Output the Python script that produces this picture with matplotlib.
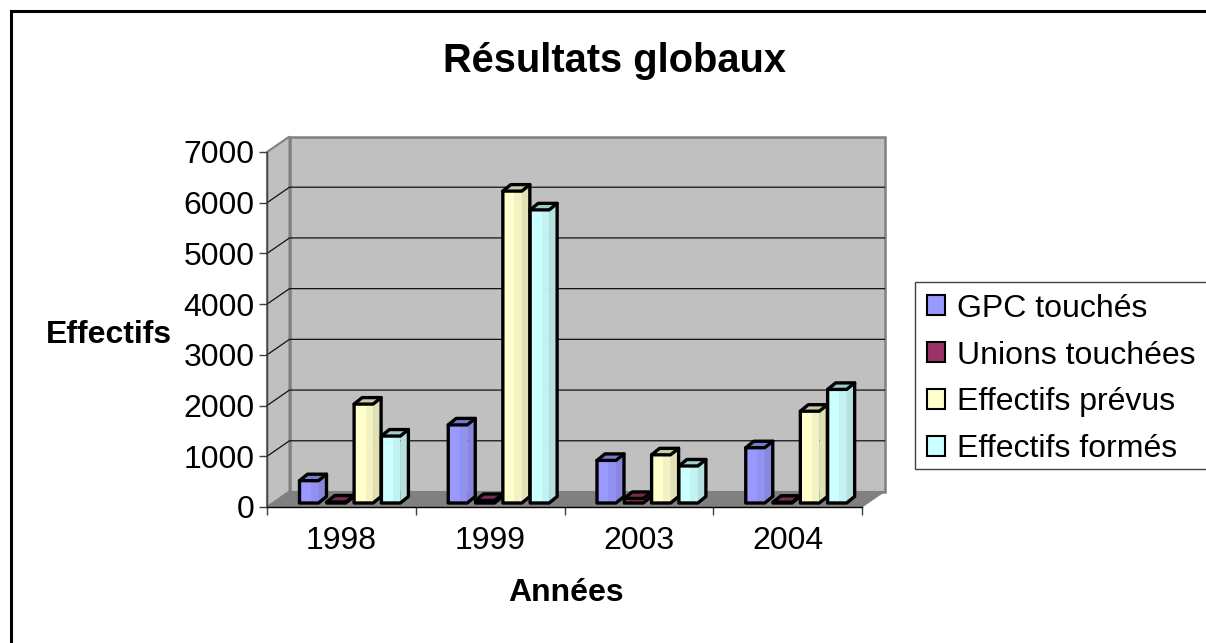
import matplotlib
matplotlib.use("Agg")
import matplotlib.pyplot as plt
from matplotlib.patches import Polygon, Patch, Rectangle
from matplotlib.lines import Line2D
from matplotlib.colors import to_rgb

plt.rcParams['font.family'] = ['Liberation Sans', 'DejaVu Sans']

years = ['1998', '1999', '2003', '2004']
series = ['GPC touchés', 'Unions touchées', 'Effectifs prévus', 'Effectifs formés']
gpc = [440, 1540, 840, 1090]
unions = [20, 50, 90, 15]
prevus = [1950, 6150, 950, 1810]
formes = [1320, 5780, 730, 2240]
values = [gpc, unions, prevus, formes]
colors = ['#9999FF', '#993366', '#FFFFCC', '#CCFFFF']
y_ticks = [0, 1000, 2000, 3000, 4000, 5000, 6000, 7000]

W, H = 1206, 643
L, R, B, T = 267, 862, 507, 152          # front plot box, pixels
fig = plt.figure(figsize=(W / 100, H / 100), dpi=100, facecolor='white')
ax = fig.add_axes([L / W, 1 - B / H, (R - L) / W, (B - T) / H])
ax.set_xlim(0, len(years))
ax.set_ylim(0, 7000)
ax.patch.set_visible(False)

px = len(years) / (R - L)                # data units per pixel, x
py = 7000 / (B - T)                      # data units per pixel, y
DX, DY = 22.5 * px, 15.5 * py            # chart depth

# outer chart frame (runs off the right and bottom edges)
fig.add_artist(Line2D([11 / W, 11 / W], [0, 1 - 11 / H], color='black', lw=2.2))
fig.add_artist(Line2D([11 / W, 1], [1 - 11 / H, 1 - 11 / H], color='black', lw=2.2))

# walls and floor
wall = dict(clip_on=False, joinstyle='miter')
ax.add_patch(Polygon([(0, 0), (DX, DY), (DX, 7000 + DY), (0, 7000)], fc='#C0C0C0', ec='#808080', lw=1.5, zorder=1, **wall))
ax.add_patch(Polygon([(DX, DY), (4 + DX, DY), (4 + DX, 7000 + DY), (DX, 7000 + DY)], fc='#C0C0C0', ec='#808080', lw=1.8, zorder=1, **wall))
ax.add_patch(Polygon([(0, 0), (4, 0), (4 + DX, DY), (DX, DY)], fc='#808080', ec='#808080', lw=0.8, zorder=1.5, **wall))
for v in y_ticks[1:-1]:
    ax.plot([0, DX, 4 + DX], [v, v + DY, v + DY], color='#111111', lw=0.9, zorder=2, clip_on=False, solid_joinstyle='miter')


def shade(c, f):
    return tuple(x * f for x in to_rgb(c))


# bars
START, STEP = 32.5 * px, 27.3 * px
FW, SW, SH = 19 * px, 8 * px, 6.5 * py
BX, BY = 0, 4 * py
LW = 2.4
for i, (vals, col) in enumerate(zip(values, colors)):
    for j, v in enumerate(vals):
        x0 = j + START + i * STEP + BX
        xm = x0 + FW * 0.6
        x1 = x0 + FW
        y0 = BY
        y1 = BY + v
        z = 3 + i * 0.1 + j
        opts = dict(ec='none', clip_on=False, zorder=z)
        ax.add_patch(Polygon([(x0, y0), (xm, y0), (xm, y1), (x0, y1)], fc=col, **opts))
        ax.add_patch(Polygon([(xm, y0), (x1, y0), (x1, y1), (xm, y1)], fc=shade(col, 0.95), **opts))
        ax.add_patch(Polygon([(x1, y0), (x1 + SW, y0 + SH), (x1 + SW, y1 + SH), (x1, y1)], fc=shade(col, 0.88), **opts))
        ax.add_patch(Polygon([(x0, y1), (x1, y1), (x1 + SW, y1 + SH), (x0 + SW, y1 + SH)], fc=shade(col, 0.8), **opts))
        edge = dict(fc='none', ec='black', lw=LW, joinstyle='round', clip_on=False, zorder=z + 0.05)
        ax.add_patch(Polygon([(x0, y0), (x1, y0), (x1 + SW, y0 + SH), (x1 + SW, y1 + SH), (x0 + SW, y1 + SH), (x0, y1)], **edge))
        ax.plot([x0, x1, x1 + SW], [y1, y1, y1 + SH], color='black', lw=LW, clip_on=False, zorder=z + 0.05, solid_capstyle='round')

# axes
for s in ['top', 'right']:
    ax.spines[s].set_visible(False)
ax.spines['left'].set_color('#404040')
ax.spines['left'].set_linewidth(1.0)
ax.spines['bottom'].set_color('black')
ax.spines['bottom'].set_linewidth(1.0)
for s in ax.spines.values():
    s.set_zorder(2.5)
ax.set_yticks(y_ticks)
ax.tick_params(axis='y', length=5.5, width=1, color='#404040', labelsize=23, pad=3.5)
ax.set_xticks([j + 0.5 for j in range(len(years))], years)
ax.set_xticks(range(len(years) + 1), minor=True)
ax.tick_params(axis='x', which='major', length=0, labelsize=23, pad=14)
ax.tick_params(axis='x', which='minor', length=5.8, width=1, color='#404040')

ax.set_xlabel('Années', fontsize=23, fontweight='bold')
ax.xaxis.set_label_coords((566 - L) / (R - L), (B - 593) / (B - T), transform=ax.transAxes)
ax.xaxis.label.set_va('center')
ax.set_ylabel('Effectifs', fontsize=23, fontweight='bold', rotation=0, ha='center', va='center')
ax.yaxis.set_label_coords((109 - L) / (R - L), (B - 335) / (B - T), transform=ax.transAxes)
fig.text(614.5 / W, 1 - 61 / H, 'Résultats globaux', fontsize=28.75, fontweight='bold', ha='center', va='center')

# legend: frame drawn separately because it runs off the right edge
fig.add_artist(Rectangle((915 / W, 1 - 469 / H), 300 / W, 187 / H, transform=fig.transFigure,
                         fc='white', ec='#404040', lw=1.0, zorder=4))
handles = [Patch(fc=c, ec='black', lw=1.5, label=s) for c, s in zip(colors, series)]
leg = fig.legend(handles=handles, loc='upper left', ncol=1,
                 bbox_to_anchor=(917 / W, 1 - 284 / H), bbox_transform=fig.transFigure,
                 fontsize=23, frameon=False,
                 borderaxespad=0, borderpad=0.3, handlelength=0.58, handleheight=0.58,
                 handletextpad=0.38, labelspacing=0.53)
leg.set_zorder(5)

fig.savefig('out.png', dpi=100)
